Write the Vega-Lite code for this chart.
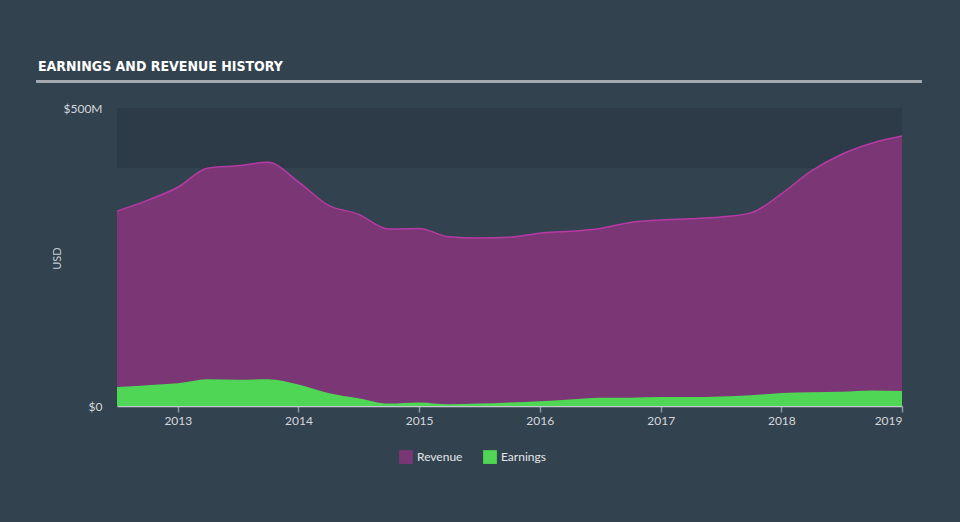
{
  "$schema": "https://vega.github.io/schema/vega-lite/v6.json",
  "width": 785,
  "height": 298,
  "autosize": {"type": "none"},
  "padding": {"left": 117, "top": 108, "right": 58, "bottom": 116},
  "background": "#33424f",
  "config": {
    "view": {"stroke": null},
    "font": "Lato",
    "axis": {"labelFont": "Lato", "titleFont": "Lato"},
    "legend": {"labelFont": "Lato"}
  },
  "title": {
    "text": "EARNINGS AND REVENUE HISTORY",
    "anchor": "start",
    "frame": "group",
    "dx": -79,
    "offset": 6,
    "font": "DejaVu Sans Condensed",
    "fontSize": 14,
    "fontWeight": "bold",
    "color": "#ffffff"
  },
  "data": {
    "values": [
      {"date": "2012-07-01", "series": "Revenue", "value": 327},
      {"date": "2012-10-01", "series": "Revenue", "value": 345},
      {"date": "2013-01-01", "series": "Revenue", "value": 367},
      {"date": "2013-04-01", "series": "Revenue", "value": 399},
      {"date": "2013-07-01", "series": "Revenue", "value": 403},
      {"date": "2013-10-01", "series": "Revenue", "value": 409},
      {"date": "2014-01-01", "series": "Revenue", "value": 376},
      {"date": "2014-04-01", "series": "Revenue", "value": 337},
      {"date": "2014-07-01", "series": "Revenue", "value": 322},
      {"date": "2014-10-01", "series": "Revenue", "value": 297},
      {"date": "2015-01-01", "series": "Revenue", "value": 298},
      {"date": "2015-04-01", "series": "Revenue", "value": 284},
      {"date": "2015-07-01", "series": "Revenue", "value": 282},
      {"date": "2015-10-01", "series": "Revenue", "value": 283},
      {"date": "2016-01-01", "series": "Revenue", "value": 290},
      {"date": "2016-04-01", "series": "Revenue", "value": 293},
      {"date": "2016-07-01", "series": "Revenue", "value": 298},
      {"date": "2016-10-01", "series": "Revenue", "value": 308},
      {"date": "2017-01-01", "series": "Revenue", "value": 312},
      {"date": "2017-04-01", "series": "Revenue", "value": 314},
      {"date": "2017-07-01", "series": "Revenue", "value": 317},
      {"date": "2017-10-01", "series": "Revenue", "value": 324},
      {"date": "2018-01-01", "series": "Revenue", "value": 356},
      {"date": "2018-04-01", "series": "Revenue", "value": 394},
      {"date": "2018-07-01", "series": "Revenue", "value": 422},
      {"date": "2018-10-01", "series": "Revenue", "value": 441},
      {"date": "2019-01-01", "series": "Revenue", "value": 453},
      {"date": "2012-07-01", "series": "Earnings", "value": 32},
      {"date": "2012-10-01", "series": "Earnings", "value": 35},
      {"date": "2013-01-01", "series": "Earnings", "value": 38},
      {"date": "2013-04-01", "series": "Earnings", "value": 45},
      {"date": "2013-07-01", "series": "Earnings", "value": 44},
      {"date": "2013-10-01", "series": "Earnings", "value": 45},
      {"date": "2014-01-01", "series": "Earnings", "value": 36},
      {"date": "2014-04-01", "series": "Earnings", "value": 22},
      {"date": "2014-07-01", "series": "Earnings", "value": 13},
      {"date": "2014-10-01", "series": "Earnings", "value": 4},
      {"date": "2015-01-01", "series": "Earnings", "value": 6},
      {"date": "2015-04-01", "series": "Earnings", "value": 3},
      {"date": "2015-07-01", "series": "Earnings", "value": 4},
      {"date": "2015-10-01", "series": "Earnings", "value": 6},
      {"date": "2016-01-01", "series": "Earnings", "value": 8},
      {"date": "2016-04-01", "series": "Earnings", "value": 11},
      {"date": "2016-07-01", "series": "Earnings", "value": 14},
      {"date": "2016-10-01", "series": "Earnings", "value": 14},
      {"date": "2017-01-01", "series": "Earnings", "value": 15},
      {"date": "2017-04-01", "series": "Earnings", "value": 15},
      {"date": "2017-07-01", "series": "Earnings", "value": 16},
      {"date": "2017-10-01", "series": "Earnings", "value": 18},
      {"date": "2018-01-01", "series": "Earnings", "value": 22},
      {"date": "2018-04-01", "series": "Earnings", "value": 23},
      {"date": "2018-07-01", "series": "Earnings", "value": 24},
      {"date": "2018-10-01", "series": "Earnings", "value": 26},
      {"date": "2019-01-01", "series": "Earnings", "value": 25}
    ]
  },
  "layer": [
    {
      "mark": {"type": "rect", "color": "#2d3a48"},
      "encoding": {
        "x": {"datum": {"year": 2012, "month": 7, "date": 1}, "type": "temporal"},
        "x2": {"datum": {"year": 2019, "month": 1, "date": 1}},
        "y": {"datum": 400, "type": "quantitative"},
        "y2": {"datum": 500}
      }
    },
    {
      "mark": {"type": "rule", "color": "#a3aab2", "strokeWidth": 2},
      "encoding": {
        "x": {"datum": {"year": 2011, "month": 11, "date": 1}, "type": "temporal"},
        "x2": {"datum": {"year": 2019, "month": 3, "date": 1}},
        "y": {"datum": 545, "type": "quantitative"}
      }
    },
    {
      "transform": [{"filter": "datum.series === 'Revenue'"}],
      "mark": {"type": "area", "interpolate": "monotone", "opacity": 1},
      "encoding": {
        "x": {"field": "date", "type": "temporal"},
        "y": {"field": "value", "type": "quantitative", "stack": null},
        "color": {"field": "series", "type": "nominal"}
      }
    },
    {
      "transform": [{"filter": "datum.series === 'Revenue'"}],
      "mark": {"type": "line", "interpolate": "monotone", "color": "#b63aa3", "strokeWidth": 1.5},
      "encoding": {
        "x": {"field": "date", "type": "temporal"},
        "y": {"field": "value", "type": "quantitative"}
      }
    },
    {
      "transform": [{"filter": "datum.series === 'Earnings'"}],
      "mark": {"type": "area", "interpolate": "monotone", "opacity": 1},
      "encoding": {
        "x": {"field": "date", "type": "temporal"},
        "y": {"field": "value", "type": "quantitative", "stack": null},
        "color": {"field": "series", "type": "nominal"}
      }
    }
  ],
  "resolve": {"scale": {"x": "shared", "y": "shared", "color": "shared"}},
  "encoding": {
    "x": {
      "type": "temporal",
      "scale": {"domain": [{"year": 2012, "month": 7, "date": 1}, {"year": 2019, "month": 1, "date": 1}], "nice": false},
      "axis": {
        "title": null,
        "format": "%Y",
        "tickCount": {"interval": "year", "step": 1},
        "grid": false,
        "domainColor": "#c3c8d0",
        "domainWidth": 1.5,
        "tickColor": "#8e98a3",
        "tickSize": 6,
        "tickWidth": 1.5,
        "labelColor": "#d3d7dc",
        "labelFontSize": 12,
        "labelPadding": 3
      }
    },
    "y": {
      "type": "quantitative",
      "scale": {"domain": [0, 500], "nice": false, "zero": true},
      "axis": {
        "title": "USD",
        "values": [0, 500],
        "labelExpr": "datum.value == 0 ? '$0' : '$' + datum.value + 'M'",
        "grid": false,
        "domain": false,
        "ticks": false,
        "labelPadding": 15,
        "labelColor": "#d3d7dc",
        "labelFontSize": 12,
        "titleColor": "#c3c8d0",
        "titleFontSize": 11,
        "titleFontWeight": "normal",
        "titleX": -55,
        "titleY": 150
      }
    },
    "color": {
      "type": "nominal",
      "scale": {"domain": ["Revenue", "Earnings"], "range": ["#7b3775", "#4fd655"]},
      "legend": {
        "title": null,
        "orient": "none",
        "legendX": 282,
        "legendY": 342,
        "direction": "horizontal",
        "symbolType": "square",
        "symbolSize": 190,
        "symbolOpacity": 1,
        "symbolStrokeWidth": 0,
        "labelColor": "#e3e6ea",
        "labelFontSize": 12,
        "columnPadding": 20,
        "encode": {
          "symbols": {
            "enter": {
              "fill": [{"test": "datum.label === 'Revenue'", "value": "#a33a98"}, {"value": "#4fd655"}]
            },
            "update": {
              "fill": [{"test": "datum.label === 'Revenue'", "value": "#a33a98"}, {"value": "#4fd655"}]
            }
          }
        }
      }
    }
  }
}
